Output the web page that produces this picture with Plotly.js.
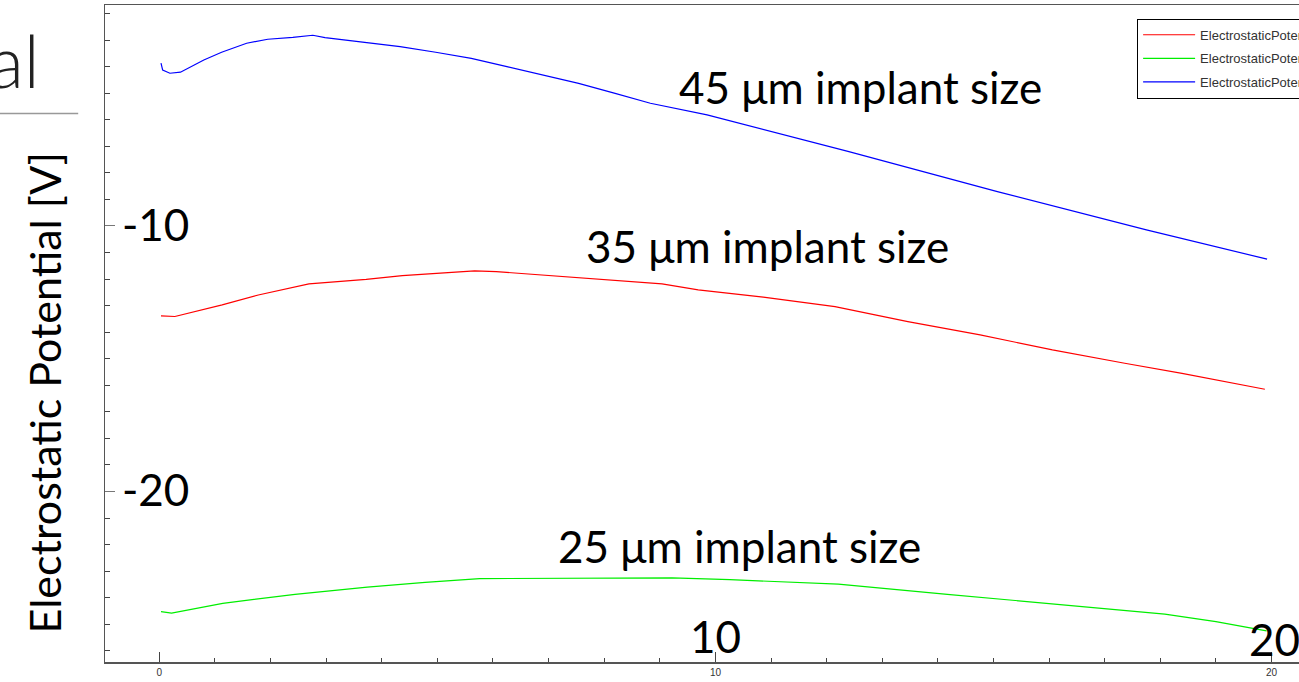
<!DOCTYPE html>
<html>
<head>
<meta charset="utf-8">
<script src="https://cdn.plot.ly/plotly-3.0.1.min.js"></script>
<style>
  html, body { margin: 0; padding: 0; background: #fff; overflow: hidden; }
  #chart { width: 1450px; height: 682px; }
</style>
</head>
<body>
<div id="chart"></div>
<script>
// Position along the cut line [µm]
const x35 = [0.03, 0.28, 1.13, 1.78, 2.69, 3.72, 4.37, 5.15, 5.67, 6.06, 7.10, 8.14, 9.04, 9.69, 10.86, 12.15, 13.46, 14.76, 16.06, 17.36, 18.39, 19.88];
const v35 = [-13.39, -13.41, -12.97, -12.60, -12.18, -12.01, -11.87, -11.76, -11.69, -11.72, -11.88, -12.03, -12.18, -12.41, -12.68, -13.04, -13.60, -14.10, -14.67, -15.17, -15.55, -16.15];

const x25 = [0.03, 0.22, 1.14, 2.44, 3.74, 4.78, 5.76, 7.00, 8.83, 9.22, 10.26, 12.21, 14.17, 16.12, 18.08, 19.00, 19.91];
const v25 = [-24.52, -24.58, -24.21, -23.87, -23.60, -23.42, -23.28, -23.26, -23.24, -23.25, -23.32, -23.49, -23.87, -24.24, -24.62, -24.90, -25.25];

const x45 = [0.03, 0.06, 0.19, 0.38, 0.80, 1.12, 1.57, 1.95, 2.40, 2.76, 2.98, 3.43, 4.01, 4.33, 4.97, 5.61, 6.25, 6.90, 7.54, 8.18, 8.83, 9.85, 12.40, 15.07, 17.75, 19.92];
const v45 = [-3.87, -4.13, -4.25, -4.21, -3.75, -3.46, -3.12, -2.97, -2.90, -2.82, -2.91, -3.02, -3.15, -3.25, -3.46, -3.69, -4.00, -4.31, -4.63, -5.00, -5.38, -5.82, -7.20, -8.71, -10.15, -11.25];

const seriesNames = ["ElectrostaticPotential_35um", "ElectrostaticPotential_25um", "ElectrostaticPotential_45um"];
const seriesColors = ["#ff0000", "#00ee00", "#0000ff"];
const curveLabels = ["35 μm implant size", "25 μm implant size", "45 μm implant size"];

const xTickVals = [0, 10, 20];
const bigYLabels = ["-10", "-20"];
const bigXLabels = ["10", "20"];

const xs = [x35, x25, x45];
const vs = [v35, v25, v45];

const traces = xs.map((xv, i) => ({
  x: xv,
  y: vs[i],
  type: "scatter",
  mode: "lines",
  name: seriesNames[i],
  legendgroup: "g" + i,
  line: { color: seriesColors[i], width: 1.2 }
}));

const bigFont = { family: "Lato, 'Open Sans', sans-serif", size: 44, color: "#000" };

const annotations = [
  // curve captions
  { x: 12.6, y: -4.75, text: curveLabels[2] },
  { x: 10.93, y: -10.77, text: curveLabels[0] },
  { x: 10.43, y: -22.07, text: curveLabels[1] },
  // enlarged axis numbers
  { x: -0.06, y: -9.92, text: bigYLabels[0] },
  { x: -0.06, y: -19.9, text: bigYLabels[1] },
  { x: 10.0, y: -25.45, text: bigXLabels[0] },
  { x: 20.05, y: -25.55, text: bigXLabels[1] }
].map(a => Object.assign({ xref: "x", yref: "y", showarrow: false, font: bigFont,
                           xanchor: "center", yanchor: "middle" }, a));

annotations.push({
  xref: "paper", yref: "paper", x: -0.0465, y: 0.41, textangle: -90,
  text: "Electrostatic Potential [V]", showarrow: false,
  font: { family: "Lato, 'Open Sans', sans-serif", size: 43, color: "#000" },
  xanchor: "center", yanchor: "middle"
});
annotations.push({
  xref: "paper", yref: "paper", x: -0.0487, y: 0.917,
  text: "al", showarrow: false,
  font: { family: "Lato, 'Open Sans', sans-serif", size: 72, color: "#222", weight: 300 },
  xanchor: "right", yanchor: "middle"
});

const layout = {
  width: 1450,
  height: 682,
  margin: { l: 105, r: 50, t: 5, b: 20 },
  paper_bgcolor: "#fff",
  plot_bgcolor: "#fff",
  showlegend: true,
  legend: {
    x: 0.797, y: 0.979, xanchor: "left", yanchor: "top",
    bgcolor: "#fff", bordercolor: "#000", borderwidth: 1,
    font: { family: "'Liberation Sans', Arial, sans-serif", size: 13, color: "#333" },
    itemwidth: 52, tracegroupgap: 3.7, traceorder: "grouped"
  },
  xaxis: {
    range: [-0.977, 22.31],
    showgrid: false, zeroline: false,
    showline: true, linecolor: "#555", linewidth: 1.5, mirror: true,
    ticks: "inside", ticklen: 10, tickcolor: "#444", tickwidth: 1,
    tickvals: xTickVals,
    tickfont: { family: "'Liberation Sans', Arial, sans-serif", size: 10, color: "#333" },
    minor: { ticks: "inside", ticklen: 4, dtick: 1, tickcolor: "#444" }
  },
  yaxis: {
    range: [-26.42, -1.68],
    showgrid: false, zeroline: false,
    showline: true, linecolor: "#555", linewidth: 1.5, mirror: true,
    ticks: "inside", ticklen: 10, tickcolor: "#777", tickwidth: 1,
    dtick: 10, showticklabels: false,
    minor: { ticks: "inside", ticklen: 5, dtick: 1, tickcolor: "#444" }
  },
  annotations: annotations,
  shapes: [
    { type: "line", xref: "paper", yref: "paper", x0: -0.0811, x1: -0.0207, y0: 0.835, y1: 0.835,
      line: { color: "#999", width: 1.5 } }
  ]
};

Plotly.newPlot("chart", traces, layout, { displayModeBar: false, staticPlot: true });
</script>
</body>
</html>
